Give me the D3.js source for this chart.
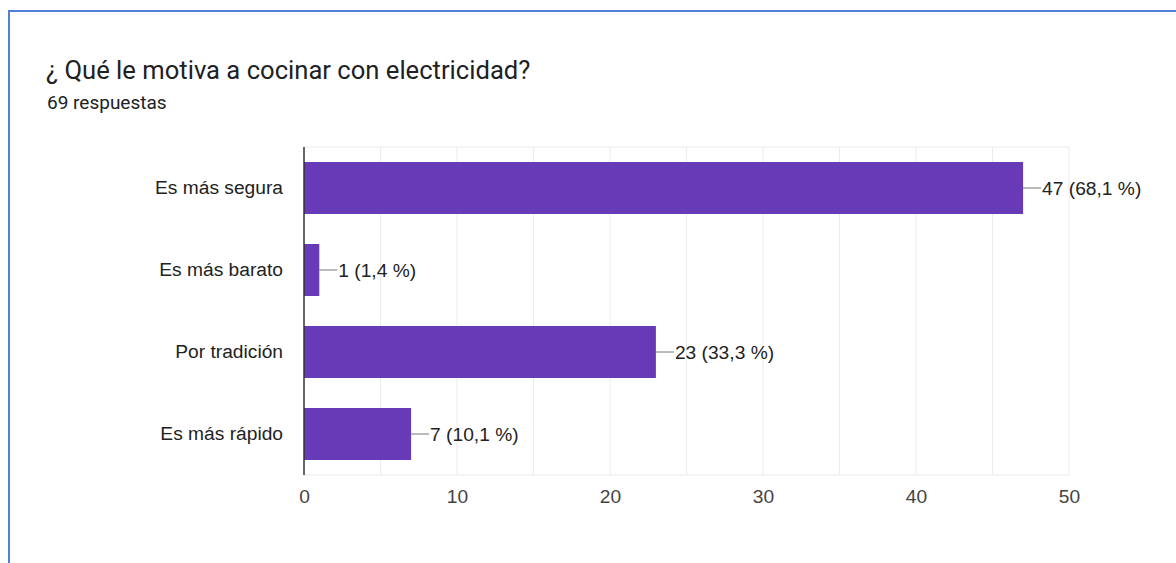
<!DOCTYPE html>
<html>
<head>
<meta charset="utf-8">
<script src="https://cdn.jsdelivr.net/npm/d3@7/dist/d3.min.js"></script>
<style>
  html, body { margin: 0; padding: 0; background: #fff; }
  svg { display: block; }
</style>
</head>
<body>
<svg id="chart" width="1176" height="563"></svg>
<script>
// Survey question and answers
const title = "¿ Qué le motiva a cocinar con electricidad?";
const totalResponses = 69;
const categories = ["Es más segura", "Es más barato", "Por tradición", "Es más rápido"];
const counts = [47, 1, 23, 7];
const tickValues = [0, 10, 20, 30, 40, 50];

const svg = d3.select("#chart");
const W = 1176, H = 563;

// card frame (blue outline on top and left)
svg.append("path")
  .attr("d", `M9,${H} L9,11 L${W},11`)
  .attr("fill", "none")
  .attr("stroke", "#4f7fd6")
  .attr("stroke-width", 2);

svg.append("text")
  .attr("x", 46).attr("y", 79)
  .attr("font-family", "Roboto, sans-serif")
  .attr("font-size", 25.6)
  .attr("fill", "#202124")
  .text(title);

svg.append("text")
  .attr("x", 47).attr("y", 109)
  .attr("font-family", "Roboto, sans-serif")
  .attr("font-size", 19)
  .attr("fill", "#202124")
  .text(`${totalResponses} respuestas`);

const plot = { left: 304, right: 1069, top: 147, bottom: 475 };

const x = d3.scaleLinear().domain([0, 50]).range([plot.left, plot.right]);
const y = d3.scaleBand().domain(categories).range([plot.top, plot.bottom]).paddingInner(0.366).paddingOuter(0.183);

const labelFont = "Arial, 'Liberation Sans', sans-serif";
const labelSize = 19.2;

const g = svg.append("g");

// vertical grid every 5 units
g.selectAll("line.grid")
  .data(d3.range(5, 51, 5))
  .join("line")
  .attr("class", "grid")
  .attr("x1", d => x(d)).attr("x2", d => x(d))
  .attr("y1", plot.top).attr("y2", plot.bottom)
  .attr("stroke", "#ebebeb").attr("stroke-width", 1);

// top and bottom frame of the plot
[plot.top, plot.bottom].forEach(yy => {
  g.append("line")
    .attr("x1", plot.left).attr("x2", plot.right)
    .attr("y1", yy).attr("y2", yy)
    .attr("stroke", "#ebebeb").attr("stroke-width", 1);
});

// bars
g.selectAll("rect.bar")
  .data(categories.map((c, i) => ({ c, v: counts[i] })))
  .join("rect")
  .attr("class", "bar")
  .attr("x", x(0))
  .attr("y", d => y(d.c))
  .attr("width", d => x(d.v) - x(0))
  .attr("height", y.bandwidth())
  .attr("fill", "#673ab7");

// value annotations with leader lines
const fmtPct = v => d3.format(".1f")(v * 100 / totalResponses).replace(".", ",");
const ann = g.selectAll("g.ann")
  .data(categories.map((c, i) => ({ c, v: counts[i] })))
  .join("g").attr("class", "ann");
ann.append("line")
  .attr("x1", d => x(d.v)).attr("x2", d => x(d.v) + 18)
  .attr("y1", d => y(d.c) + y.bandwidth() / 2).attr("y2", d => y(d.c) + y.bandwidth() / 2)
  .attr("stroke", "#777").attr("stroke-width", 1);
ann.append("text")
  .attr("x", d => x(d.v) + 19)
  .attr("y", d => y(d.c) + y.bandwidth() / 2)
  .attr("dy", "0.35em")
  .attr("font-family", labelFont)
  .attr("font-size", labelSize)
  .attr("fill", "#222")
  .text(d => `${d.v} (${fmtPct(d.v)} %)`);

// category axis
const yAxis = d3.axisLeft(y).tickSize(0).tickPadding(21);
const ya = g.append("g").attr("transform", `translate(${plot.left},0)`).call(yAxis);
ya.select(".domain").remove();
ya.selectAll("text")
  .attr("font-family", labelFont)
  .attr("font-size", labelSize)
  .attr("fill", "#222");

// baseline
g.append("line")
  .attr("x1", plot.left).attr("x2", plot.left)
  .attr("y1", plot.top).attr("y2", plot.bottom)
  .attr("stroke", "#333").attr("stroke-width", 1.5);

// value axis
const xAxis = d3.axisBottom(x).tickValues(tickValues).tickSize(0).tickPadding(14);
const xa = g.append("g").attr("transform", `translate(0,${plot.bottom})`).call(xAxis);
xa.select(".domain").remove();
xa.selectAll("text")
  .attr("font-family", labelFont)
  .attr("font-size", labelSize)
  .attr("fill", "#444");
</script>
</body>
</html>
